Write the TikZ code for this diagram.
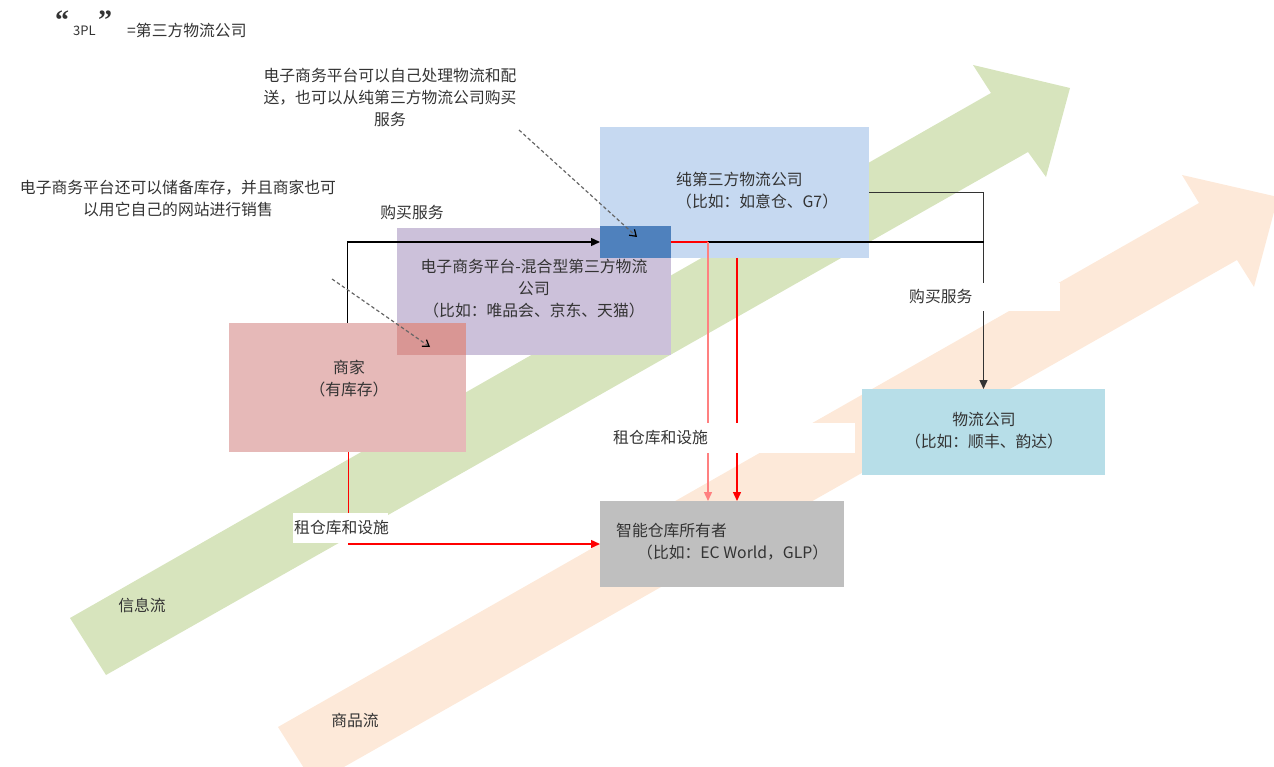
\documentclass[tikz,border=0pt]{standalone}
\usepackage{fontspec}
\setmainfont{Noto Sans CJK SC}
\newfontfamily\qfont{Liberation Serif}
\usetikzlibrary{arrows.meta}
\definecolor{greenA}{HTML}{D7E4BD}
\definecolor{orangeA}{HTML}{FDE9D9}
\definecolor{pinkA}{HTML}{E6B9B8}
\definecolor{purpleA}{HTML}{CCC1DA}
\definecolor{overlapA}{HTML}{D99694}
\definecolor{blueA}{HTML}{C6D9F1}
\definecolor{darkblueA}{HTML}{4F81BD}
\definecolor{cyanA}{HTML}{B7DEE8}
\definecolor{greyA}{HTML}{BFBFBF}
\definecolor{txtA}{HTML}{333333}
\definecolor{lightred}{HTML}{FF8080}
\tikzset{
  box/.style={draw=none, inner sep=0pt, outer sep=0pt},
  txt/.style={inner sep=0pt, text=txtA, align=center},
  lbl/.style={fill=white, inner ysep=0pt, text=txtA, align=left, anchor=west},
  conn/.style={line width=1.4pt, -{Triangle[length=9pt,width=8pt]}},
  dashconn/.style={line width=1.2pt, black!60, dash pattern=on 3.5pt off 2.5pt, -{Straight Barb[black,length=6pt,width=8pt]}}
}
\begin{document}
\begin{tikzpicture}[x=1pt,y=-1pt, font=\fontsize{15.8}{22}\selectfont]
\useasboundingbox (0,0) rectangle (1274,767);
% big flow arrows
\fill[greenA] (70,618) -- (991,93) -- (973,65) -- (1070,88) -- (1046,177) -- (1028,152) -- (106,675) -- cycle;
\begin{scope}
\clip (0,0) rectangle (1274,767);
\fill[orangeA] (278,727) -- (1199,203) -- (1182,175) -- (1278,197) -- (1254,287) -- (1237,260) -- (314,784) -- cycle;
\end{scope}
% boxes
\node[box, fill=purpleA, minimum width=274pt, minimum height=127pt] (ec) at (534,291.5) {};
\node[box, fill=pinkA, minimum width=237pt, minimum height=129pt] (mer) at (347.5,387.5) {};
\fill[overlapA] (ec.west |- mer.north) rectangle (mer.east |- ec.south);
\node[box, fill=blueA, minimum width=269pt, minimum height=131pt] (pure) at (734.5,192.5) {};
\node[box, fill=darkblueA, minimum width=71pt, minimum height=32pt] (db) at (635.5,242) {};
\node[box, fill=cyanA, minimum width=243pt, minimum height=86pt] (logi) at (983.5,432) {};
\node[box, fill=greyA, minimum width=244pt, minimum height=86pt] (wh) at (722,544) {};
% helper coordinates
\coordinate (j1) at (708,242);
\coordinate (j2) at (984,242);
\coordinate (r2) at (737,258);
\coordinate (ms) at ([xshift=1pt]mer.south);
\coordinate (d1s) at (519,130);
\coordinate (d1e) at (637,237);
\coordinate (d2s) at (332,279);
\coordinate (d2e) at (430,347);
% connectors
\draw[conn, black] (mer.north) |- (db.west);
\draw[conn, black!80] (pure.east) -| (logi.north);
\draw[line width=1.4pt, black] (j1) -- (j2);
\draw[line width=1.4pt, red] (db.east) -- (j1);
\draw[conn, lightred] (j1) -- (j1 |- wh.north);
\draw[conn, red] (r2) -- (r2 |- wh.north);
\draw[conn, red] (ms) |- (wh.west);
\draw[dashconn] (d1s) -- (d1e);
\draw[dashconn] (d2s) -- (d2e);
% labels with white background
\node[lbl, inner xsep=6pt, minimum height=30pt, text width=236pt] (l1) at (607,438) {租仓库和设施};
\node[lbl, inner xsep=4pt, minimum height=28pt, text width=147pt] (l2) at (905,297) {购买服务};
\node[lbl, inner xsep=1pt, minimum height=30pt, text width=93pt] (l3) at (293,528) {租仓库和设施};
% texts
\node[txt, anchor=west, align=left] (puret) at (676,191) {纯第三方物流公司\\（比如：如意仓、G7）};
\node[txt] (mert) at (349,379) {商家\\（有库存）};
\node[txt] (ect) at (534,288.5) {电子商务平台-混合型第三方物流\\公司\\（比如：唯品会、京东、天猫）};
\node[txt] (logit) at (984,431) {物流公司\\（比如：顺丰、韵达）};
\node[txt, anchor=west] (wht1) at (616,531) {智能仓库所有者};
\node[txt, anchor=west] (wht2) at (637,553) {（比如：EC World，GLP）};
\node[txt] (ann1) at (390,97) {电子商务平台可以自己处理物流和配\\送，也可以从纯第三方物流公司购买\\服务};
\node[txt] (ann2) at (178,198.5) {电子商务平台还可以储备库存，并且商家也可\\以用它自己的网站进行销售};
\node[txt] (buy1) at (412,213) {购买服务};
\node[txt] (info) at (142,605) {信息流};
\node[txt] (goods) at (355,720) {商品流};
% header
\node[txt, anchor=north] (q1) at (62,11) {\qfont\bfseries\fontsize{28}{28}\selectfont “};
\node[txt, anchor=north] (q2) at (105,11) {\qfont\bfseries\fontsize{28}{28}\selectfont ”};
\node[txt, anchor=west] (tpl) at (73,31) {\fontsize{13}{15}\selectfont 3PL};
\node[txt, anchor=west] (eq) at (127,30) {=第三方物流公司};
\end{tikzpicture}
\end{document}
